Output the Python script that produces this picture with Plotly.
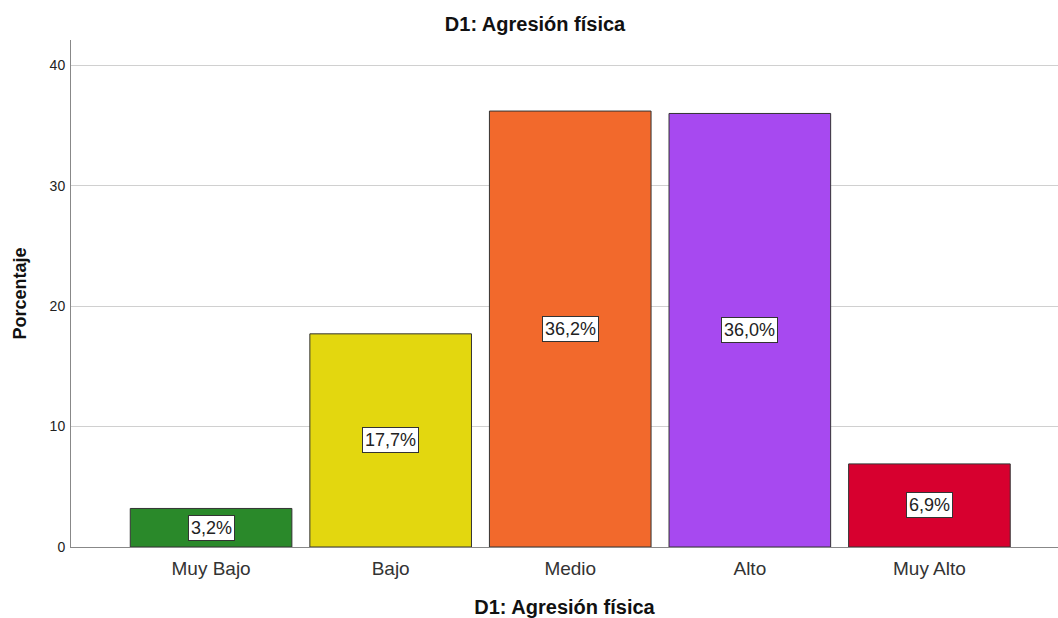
import plotly.graph_objects as go

categories = ["Muy Bajo", "Bajo", "Medio", "Alto", "Muy Alto"]
values = [3.2, 17.7, 36.2, 36.0, 6.9]
labels = ["3,2%", "17,7%", "36,2%", "36,0%", "6,9%"]
colors = ["#2a892a", "#e3d70f", "#f2692c", "#a749f0", "#d7002f"]

FONT = "Liberation Sans, Arial"

fig = go.Figure()
fig.add_trace(go.Bar(
    x=list(range(len(categories))), y=values,
    width=0.9,
    marker=dict(color=colors, line=dict(color="#333333", width=1)),
    hoverinfo="skip",
))

for i, (v, lab) in enumerate(zip(values, labels)):
    fig.add_annotation(
        x=i, y=v / 2, text=lab, showarrow=False,
        font=dict(family=FONT, size=18, color="#222222"),
        bgcolor="white", bordercolor="#333333", borderwidth=1, borderpad=2,
    )

fig.update_layout(
    width=1058, height=618,
    margin=dict(l=71, r=0, t=40, b=71),
    paper_bgcolor="white", plot_bgcolor="white",
    showlegend=False,
    title=dict(text="<b>D1: Agresión física</b>", x=0.5057, xanchor="center", y=0.961, yanchor="middle",
               font=dict(family=FONT, size=20, color="#111111")),
    font=dict(family=FONT, color="#222222"),
)
fig.update_xaxes(
    tickmode="array", tickvals=list(range(len(categories))), ticktext=categories,
    range=[-0.78, 4.716], showgrid=False, zeroline=False,
    showline=True, linecolor="#888888", linewidth=1,
    tickfont=dict(size=19, color="#333333"),
    ticklabelstandoff=4,
    title=dict(text="<b>D1: Agresión física</b>", font=dict(size=20, color="#111111"), standoff=22),
    ticks="",
)
fig.update_yaxes(
    range=[0, 42.1], tickvals=[0, 10, 20, 30, 40],
    showgrid=True, gridcolor="#d0d0d0", gridwidth=1, zeroline=False,
    showline=True, linecolor="#888888", linewidth=1,
    tickfont=dict(size=14, color="#222222"),
    ticklabelstandoff=2,
    title=dict(text="<b>Porcentaje</b>", font=dict(size=18, color="#111111"), standoff=18),
    ticks="",
)

fig.write_html(
    "out.html",
    config={"displayModeBar": False},
    post_script="document.body.style.margin='0';document.body.style.overflow='hidden';",
)
